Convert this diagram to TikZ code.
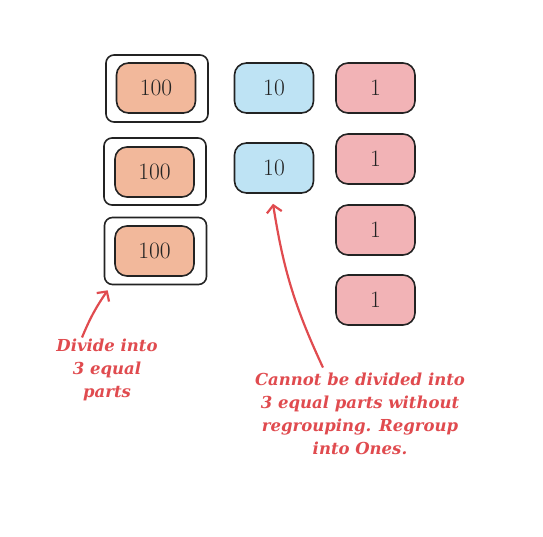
\documentclass[tikz,border=0pt]{standalone}
\usepackage{fontspec}
\usetikzlibrary{arrows.meta}
\newfontfamily\notefont{DejaVu Serif}
\definecolor{hundredfill}{HTML}{F2B89B}
\definecolor{tenfill}{HTML}{BEE3F4}
\definecolor{onefill}{HTML}{F2B3B6}
\definecolor{notered}{HTML}{E04B4F}
\definecolor{edgegray}{HTML}{232323}

\begin{document}
\begin{tikzpicture}[x=1pt, y=-1pt,
		tile/.style={draw=edgegray, line width=1.6pt, rounded corners=12pt, minimum width=79pt, minimum height=50pt, text=edgegray, font=\fontsize{23.5}{23.5}\selectfont},
		holder/.style={draw=edgegray, line width=1.6pt, rounded corners=8pt, minimum width=102pt, minimum height=67pt},
		note/.style={text=notered, align=center, font=\notefont\itshape\bfseries\fontsize{16.5}{23}\selectfont},
		notearrow/.style={draw=notered, line width=2.2pt, -{Straight Barb[length=7pt,width=15pt]}}]
	\useasboundingbox (0,0) rectangle (543,536);
	% hundreds, each in its own part
	\node[holder] (box1) at (157,88.5) {};
	\node[holder] (box2) at (155,171.5) {};
	\node[holder] (box3) at (155.5,251) {};
	\node[tile, fill=hundredfill] (hun1) at (156,88) {100};
	\node[tile, fill=hundredfill] (hun2) at (154.5,172) {100};
	\node[tile, fill=hundredfill] (hun3) at (154.5,251) {100};
	% tens
	\node[tile, fill=tenfill] (ten1) at (274,88) {10};
	\node[tile, fill=tenfill] (ten2) at (274,168) {10};
	% ones
	\foreach \y [count=\i] in {88,159,230,300}
		\node[tile, fill=onefill] (one\i) at (375.5,\y) {1};
	% notes
	\node[note] (divide) at (107,370) {Divide into\\3 equal\\parts};
	\node[note] (cannot) at (360,414) {Cannot be divided into\\3 equal parts without\\regrouping. Regroup\\into Ones.};
	\draw[notearrow] ([shift={(-25,2)}]divide.north) to[bend left=6] ([shift={(4,5)}]box3.south west);
	\draw[notearrow] ([shift={(-37,-2)}]cannot.north) to[bend left=8] ([shift={(-1,10)}]ten2.south);
\end{tikzpicture}
\end{document}
